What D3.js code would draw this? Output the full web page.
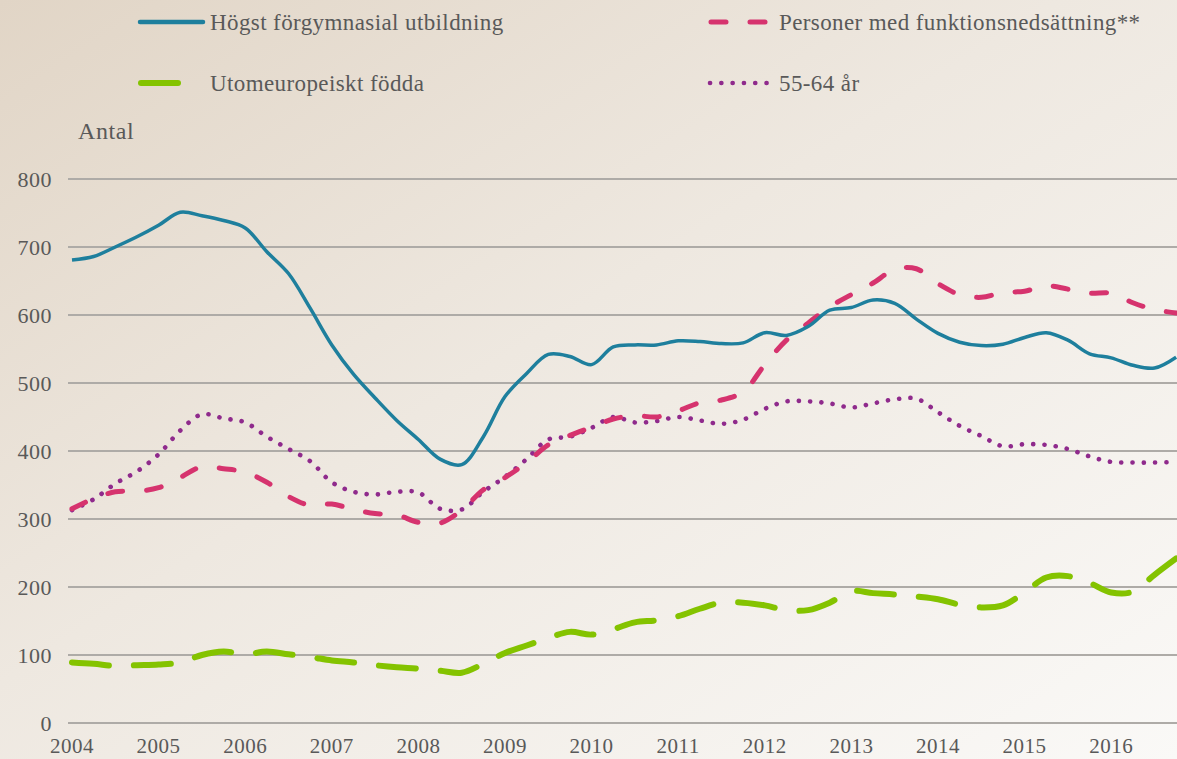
<!DOCTYPE html>
<html lang="sv">
<head>
<meta charset="utf-8">
<script src="https://cdn.jsdelivr.net/npm/d3@7"></script>
<style>
  html, body { margin: 0; padding: 0; }
  body { width: 1177px; height: 759px; overflow: hidden; }
  svg { display: block; font-family: "Liberation Serif", "DejaVu Serif", serif; }
</style>
</head>
<body>
<svg id="chart" width="1177" height="759"></svg>
<script>
// Time points (quarters, decimal years)
const quarters = [
  2004.00, 2004.25, 2004.50, 2004.75, 2005.00, 2005.25, 2005.50, 2005.75,
  2006.00, 2006.25, 2006.50, 2006.75, 2007.00, 2007.25, 2007.50, 2007.75,
  2008.00, 2008.25, 2008.50, 2008.75, 2009.00, 2009.25, 2009.50, 2009.75,
  2010.00, 2010.25, 2010.50, 2010.75, 2011.00, 2011.25, 2011.50, 2011.75,
  2012.00, 2012.25, 2012.50, 2012.75, 2013.00, 2013.25, 2013.50, 2013.75,
  2014.00, 2014.25, 2014.50, 2014.75, 2015.00, 2015.25, 2015.50, 2015.75,
  2016.00, 2016.25, 2016.50, 2016.75
];

// Högst förgymnasial utbildning
const forgymnasial = [
  681, 686, 700, 715, 732, 751, 746, 739,
  728, 693, 661, 610, 556, 513, 478, 445,
  417, 388, 380, 421, 480, 514, 542, 539,
  527, 553, 556, 556, 562, 561, 558, 559,
  574, 570, 583, 607, 611, 622, 617, 594,
  573, 560, 555, 557, 567, 574, 563, 543,
  537, 526, 522, 538
];

// Personer med funktionsnedsättning**
const funktionsnedsattning = [
  315, 330, 340, 341, 346, 361, 377, 374,
  369, 354, 333, 320, 322, 314, 308, 306,
  295, 294, 313, 343, 361, 383, 409, 423,
  435, 447, 452, 450, 459, 471, 475, 487,
  527, 563, 588, 612, 630, 647, 667, 668,
  646, 630, 626, 633, 635, 643, 638, 632,
  632, 618, 608, 603
];

// Utomeuropeiskt födda
const utomeuropeiskt = [
  89, 87, 84, 85, 86, 89, 100, 105,
  101, 105, 101, 97, 92, 89, 85, 82,
  80, 77, 74, 87, 103, 114, 125, 134,
  130, 138, 148, 151, 157, 168, 177, 177,
  173, 166, 166, 177, 194, 191, 189, 186,
  182, 174, 170, 173, 192, 214, 216, 206,
  192, 193, 218, 242
];

// 55-64 år
const aldre = [
  313, 329, 352, 370, 395, 430, 454, 448,
  442, 421, 403, 385, 354, 340, 336, 340,
  339, 315, 314, 340, 362, 388, 417, 421,
  434, 450, 442, 444, 450, 445, 440, 446,
  462, 473, 473, 470, 464, 470, 476, 477,
  457, 437, 422, 407, 410, 409, 403, 392,
  384, 383, 383, 384
];

const yearTicks = [2004, 2005, 2006, 2007, 2008, 2009, 2010, 2011, 2012, 2013, 2014, 2015, 2016];
const valueTicks = [0, 100, 200, 300, 400, 500, 600, 700, 800];

const series = [
  { name: 'Högst förgymnasial utbildning', values: forgymnasial, color: '#1e7f9d', width: 3.5, dash: null, cap: 'butt' },
  { name: 'Personer med funktionsnedsättning**', values: funktionsnedsattning, color: '#d6336e', width: 5, dash: '15 24', cap: 'round' },
  { name: 'Utomeuropeiskt födda', values: utomeuropeiskt, color: '#84c300', width: 6, dash: '37 25', cap: 'round' },
  { name: '55-64 år', values: aldre, color: '#8f2a8c', width: 4.6, dash: '0.1 11.2', cap: 'round' }
];

const W = 1177, H = 759;
const svg = d3.select('#chart');
const textColor = '#595959';

// Background gradient (tan top-left to near white bottom-right)
const defs = svg.append('defs');
const bg = defs.append('linearGradient')
  .attr('id', 'bg')
  .attr('x1', '0%').attr('y1', '0%')
  .attr('x2', '100%').attr('y2', '100%');
bg.append('stop').attr('offset', '0%').attr('stop-color', '#e1d5c6');
bg.append('stop').attr('offset', '45%').attr('stop-color', '#eee8e0');
bg.append('stop').attr('offset', '100%').attr('stop-color', '#faf9f7');
svg.append('rect').attr('width', W).attr('height', H).attr('fill', 'url(#bg)');

const x = d3.scaleLinear().domain([2004, 2017]).range([72, 72 + 13 * 86.6]);
const y = d3.scaleLinear().domain([0, 800]).range([723, 179]);

// Gridlines
svg.append('g')
  .selectAll('line')
  .data(valueTicks)
  .join('line')
  .attr('x1', 68).attr('x2', W)
  .attr('y1', d => y(d)).attr('y2', d => y(d))
  .attr('stroke', '#aeaba7')
  .attr('stroke-width', 1.8);

// Y tick labels
svg.append('g')
  .selectAll('text')
  .data(valueTicks)
  .join('text')
  .attr('x', 52)
  .attr('y', d => y(d))
  .attr('dy', '0.35em')
  .attr('text-anchor', 'end')
  .attr('font-size', '22px')
  .attr('letter-spacing', '0.5px')
  .attr('fill', textColor)
  .text(d => d);

// X tick labels
svg.append('g')
  .selectAll('text')
  .data(yearTicks)
  .join('text')
  .attr('x', d => x(d))
  .attr('y', 753)
  .attr('text-anchor', 'middle')
  .attr('font-size', '21px')
  .attr('letter-spacing', '0.5px')
  .attr('fill', textColor)
  .text(d => d);

// Axis title
svg.append('text')
  .attr('x', 78)
  .attr('y', 139)
  .attr('font-size', '24px')
  .attr('letter-spacing', '0.6px')
  .attr('fill', textColor)
  .text('Antal');

// Lines
const line = d3.line()
  .x((d, i) => x(quarters[i]))
  .y(d => y(d))
  .curve(d3.curveCatmullRom.alpha(0.5));

// draw back to front: green, purple, pink, blue
[2, 3, 1, 0].forEach(k => {
  const s = series[k];
  svg.append('path')
    .datum(s.values)
    .attr('d', line)
    .attr('fill', 'none')
    .attr('stroke', s.color)
    .attr('stroke-width', s.width)
    .attr('stroke-linecap', s.cap)
    .attr('stroke-linejoin', 'round')
    .attr('stroke-dasharray', s.dash);
});

// Legend
const legendItems = [
  { s: series[0], x1: 140, x2: 203, ly: 22, tx: 210 },
  { s: series[1], x1: 711, x2: 771, ly: 22, tx: 779 },
  { s: series[2], x1: 141, x2: 184, ly: 83, tx: 210 },
  { s: series[3], x1: 710, x2: 770, ly: 83, tx: 779 }
];

const legend = svg.append('g').attr('class', 'legend');
legendItems.forEach(it => {
  legend.append('line')
    .attr('x1', it.x1).attr('x2', it.x2)
    .attr('y1', it.ly).attr('y2', it.ly)
    .attr('stroke', it.s.color)
    .attr('stroke-width', it.s.width === 3.5 ? 4.5 : it.s.width)
    .attr('stroke-linecap', 'round')
    .attr('stroke-dasharray', it.s.dash);
  legend.append('text')
    .attr('x', it.tx)
    .attr('y', it.ly)
    .attr('dy', '0.35em')
    .attr('font-size', '23px')
    .attr('letter-spacing', '0.4px')
    .attr('fill', textColor)
    .text(it.s.name);
});
</script>
</body>
</html>
